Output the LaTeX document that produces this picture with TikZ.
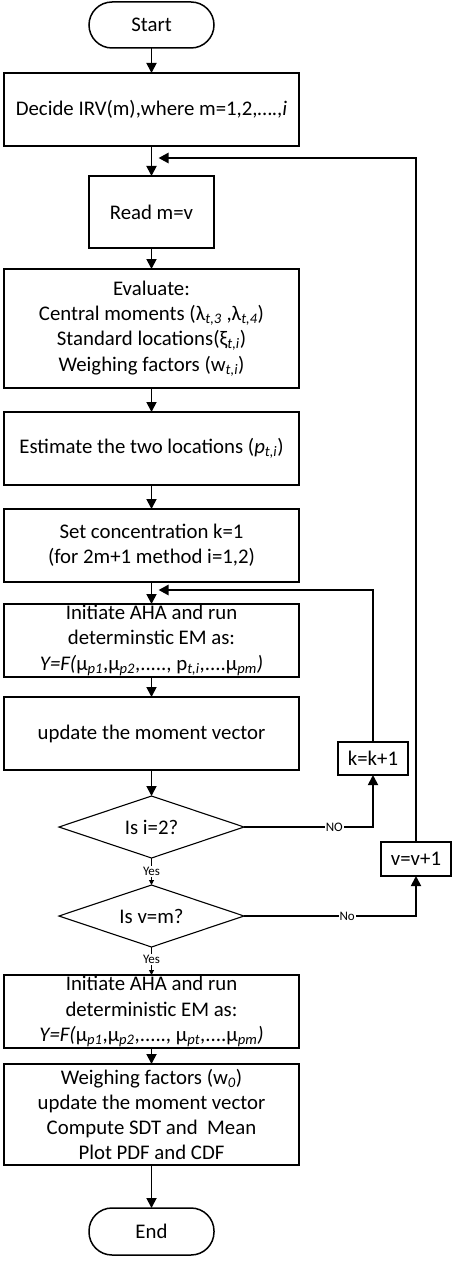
\documentclass[tikz,border=0pt]{standalone}
\usepackage{fontspec}
\setmainfont{Carlito}
\usetikzlibrary{arrows.meta,shapes.geometric}
\newcommand{\sbi}[1]{\textsubscript{\textit{#1}}}
\begin{document}
\begin{tikzpicture}[x=1pt,y=-1pt,
  every node/.style={inner sep=0pt, outer sep=0pt},
  txt/.style={font=\fontsize{20.8}{25.3}\selectfont, align=center},
  box/.style={txt, draw, line width=1.5pt, minimum width=295pt, minimum height=73pt},
  smallbox/.style={txt, draw, line width=1.5pt, minimum width=70pt, minimum height=33pt},
  term/.style={txt, draw, line width=1.5pt, minimum width=125pt, minimum height=46pt, rounded corners=23pt},
  dec/.style={txt, draw, diamond, line width=1.1pt, aspect=2.98, minimum width=185pt, minimum height=62pt},
  lbl/.style={font=\fontsize{13}{14}\selectfont, fill=white, inner sep=1pt},
  arr/.style={line width=1.8pt, -{Triangle[length=10pt,width=10pt]}},
  loop/.style={line width=2.5pt, -{Triangle[length=10pt,width=10pt]}}]
\useasboundingbox (0,0) rectangle (457,1265);
\node[term] (start) at (151.5,25) {Start};
\node[box] (decide) at (151.5,109.5) {Decide IRV(m),where m=1,2,….,\textit{i}};
\node[box, minimum width=125pt, minimum height=72pt] (read) at (151.5,212) {Read m=v};
\node[box, minimum height=119pt] (eval) at (151.5,328.5) {Evaluate:\\Central moments (λ\sbi{t,3} ,λ\sbi{t,4})\\Standard locations(ξ\sbi{t,i})\\Weighing factors (w\sbi{t,i})};
\node[box] (est) at (151.5,448.5) {Estimate the two locations (\textit{p}\sbi{t,i})};
\node[box] (setk) at (151.5,545.5) {Set concentration k=1\\(for 2m+1 method i=1,2)};
\node[box] (init1) at (151.5,640.5) {Initiate AHA and run\\determinstic EM as:\\\textit{Y=F(}μ\sbi{p1},μ\sbi{p2},....., p\sbi{t,i},....μ\sbi{pm}\textit{)}};
\node[box] (upd) at (151.5,733.5) {update the moment vector};
\node[dec] (d1) at (151.5,827) {Is i=2?};
\node[smallbox] (kbox) at (373,758.5) {k=k+1};
\node[smallbox, minimum height=34pt] (vbox) at (416,859) {v=v+1};
\node[dec] (d2) at (151.5,916) {Is v=m?};
\node[box] (init2) at (151.5,1011.5) {Initiate AHA and run\\deterministic EM as:\\\textit{Y=F(}μ\sbi{p1},μ\sbi{p2},....., μ\sbi{pt},....μ\sbi{pm}\textit{)}};
\node[box, minimum height=101pt] (wf) at (151.5,1114.5) {Weighing factors (w\sbi{0})\\update the moment vector\\Compute SDT and~ Mean\\Plot PDF and CDF};
\node[term, minimum height=47pt] (end) at (151.5,1231.5) {End};
\coordinate (j1) at (151.5,158);
\coordinate (j2) at (151.5,590);
\coordinate (c1) at (373,827);
\coordinate (c2) at (416,916);
\draw[arr] (start) -- (decide);
\draw[arr] (decide) -- (read);
\draw[arr] (read) -- (eval);
\draw[arr] (eval) -- (est);
\draw[arr] (est) -- (setk);
\draw[arr] (setk) -- (init1);
\draw[arr] (init1) -- (upd);
\draw[arr] (upd) -- (d1);
\draw[arr, line width=1pt, -{Triangle[length=5pt,width=5pt]}] (d1.south) -- node[lbl] {Yes} (d2.north);
\draw[arr, line width=1pt, -{Triangle[length=5pt,width=5pt]}] (d2.south) -- node[lbl, pos=0.45] {Yes} (init2.north);
\draw[arr] (init2) -- (wf);
\draw[arr] (wf) -- (end);
\draw[loop, line width=1.8pt] (d1.east) -- node[lbl, pos=0.7] {NO} (c1) -- (kbox.south);
\draw[loop] (kbox.north) |- ([xshift=7pt]j2);
\draw[loop, line width=1.8pt] (d2.east) -- node[lbl, pos=0.6] {No} (c2) -- (vbox.south);
\draw[loop] (vbox.north) |- ([xshift=7pt]j1);
\end{tikzpicture}
\end{document}
